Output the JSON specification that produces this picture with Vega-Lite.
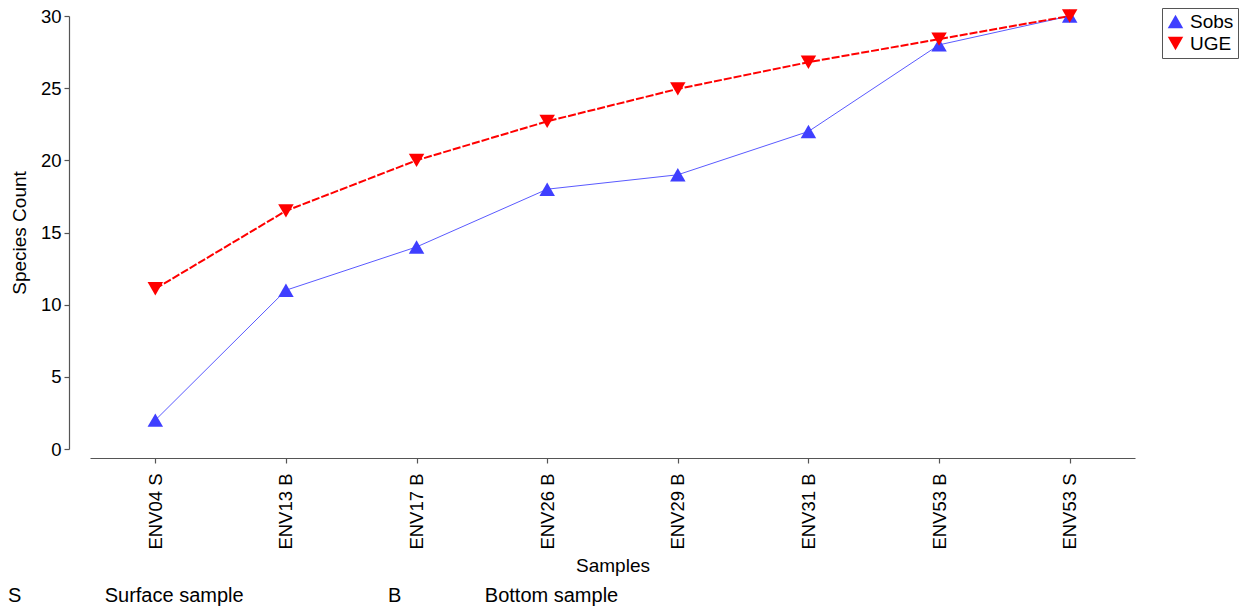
{
  "$schema": "https://vega.github.io/schema/vega-lite/v6.json",
  "width": 1045,
  "height": 433,
  "autosize": "none",
  "padding": {"left": 90, "top": 16, "right": 112, "bottom": 161},
  "background": "white",
  "config": {
    "font": "Liberation Sans",
    "view": {"stroke": null},
    "axis": {"grid": false, "domainColor": "#555555", "tickColor": "#555555", "labelColor": "black", "titleColor": "black", "labelFontSize": 18.5, "titleFontSize": 19, "titleFontWeight": "normal", "labelFont": "Liberation Sans", "titleFont": "Liberation Sans", "tickSize": 5, "domainWidth": 1.2, "tickWidth": 1.2}
  },
  "title": {
    "text": "S\u00a0\u00a0\u00a0\u00a0\u00a0\u00a0\u00a0\u00a0\u00a0\u00a0\u00a0\u00a0\u00a0\u00a0\u00a0Surface sample\u00a0\u00a0\u00a0\u00a0\u00a0\u00a0\u00a0\u00a0\u00a0\u00a0\u00a0\u00a0\u00a0\u00a0\u00a0\u00a0\u00a0\u00a0\u00a0\u00a0\u00a0\u00a0\u00a0\u00a0\u00a0\u00a0B\u00a0\u00a0\u00a0\u00a0\u00a0\u00a0\u00a0\u00a0\u00a0\u00a0\u00a0\u00a0\u00a0\u00a0\u00a0Bottom sample",
    "orient": "bottom",
    "anchor": "start",
    "frame": "group",
    "dx": -82,
    "offset": 11,
    "fontSize": 20,
    "fontWeight": "normal",
    "font": "Liberation Sans",
    "color": "black"
  },
  "data": {
    "values": [
      {"sample": "ENV04 S", "series": "Sobs", "count": 2},
      {"sample": "ENV13 B", "series": "Sobs", "count": 11},
      {"sample": "ENV17 B", "series": "Sobs", "count": 14},
      {"sample": "ENV26 B", "series": "Sobs", "count": 18},
      {"sample": "ENV29 B", "series": "Sobs", "count": 19},
      {"sample": "ENV31 B", "series": "Sobs", "count": 22},
      {"sample": "ENV53 B", "series": "Sobs", "count": 28},
      {"sample": "ENV53 S", "series": "Sobs", "count": 30},
      {"sample": "ENV04 S", "series": "UGE", "count": 11.1},
      {"sample": "ENV13 B", "series": "UGE", "count": 16.5},
      {"sample": "ENV17 B", "series": "UGE", "count": 20.0},
      {"sample": "ENV26 B", "series": "UGE", "count": 22.7},
      {"sample": "ENV29 B", "series": "UGE", "count": 24.95},
      {"sample": "ENV31 B", "series": "UGE", "count": 26.8},
      {"sample": "ENV53 B", "series": "UGE", "count": 28.4},
      {"sample": "ENV53 S", "series": "UGE", "count": 30}
    ]
  },
  "encoding": {
    "x": {
      "field": "sample", "type": "nominal", "sort": null,
      "scale": {"type": "point", "padding": 0.5},
      "axis": {"title": "Samples", "labelAngle": -90, "offset": 9, "labelPadding": 10, "titlePadding": 7}
    },
    "y": {
      "field": "count", "type": "quantitative",
      "scale": {"domain": [0, 30], "nice": false},
      "axis": {"title": "Species Count", "values": [0, 5, 10, 15, 20, 25, 30], "offset": 21, "labelPadding": 3, "titlePadding": 11}
    }
  },
  "layer": [
    {
      "transform": [{"filter": "datum.series === 'Sobs'"}],
      "mark": {"type": "line", "color": "#5a5aff", "strokeWidth": 1}
    },
    {
      "transform": [{"filter": "datum.series === 'UGE'"}],
      "mark": {"type": "line", "color": "#ff0000", "strokeWidth": 2, "strokeDash": [8, 2]}
    },
    {
      "mark": {"type": "point", "filled": true, "opacity": 1, "size": 240},
      "encoding": {
        "color": {"field": "series", "type": "nominal", "scale": {"domain": ["Sobs", "UGE"], "range": ["#3f3fff", "#ff0000"]}, "legend": {"title": null, "orient": "none", "legendX": 1072, "legendY": -8, "strokeColor": "#555555", "padding": 4, "labelFontSize": 19, "labelFont": "Liberation Sans", "labelColor": "black", "symbolSize": 240, "rowPadding": 2, "labelOffset": 5, "symbolOpacity": 1}},
        "shape": {"field": "series", "type": "nominal", "scale": {"domain": ["Sobs", "UGE"], "range": ["triangle-up", "triangle-down"]}, "legend": null}
      }
    }
  ]
}
